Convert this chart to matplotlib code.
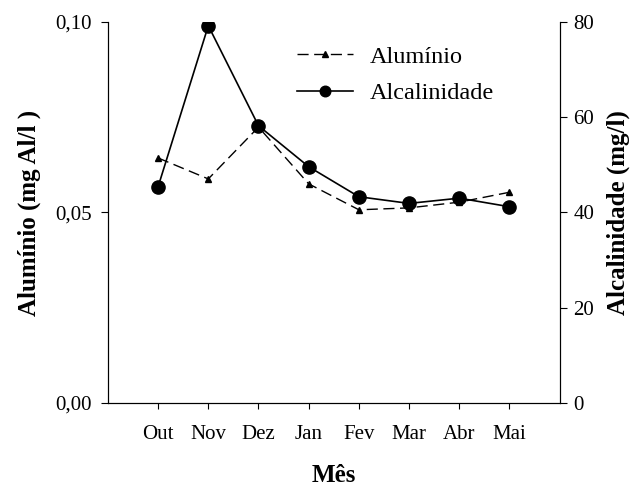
import numpy as np
import matplotlib.pyplot as plt

plt.rcParams['font.family'] = ['Liberation Serif', 'DejaVu Serif']

# data
meses = ['Out', 'Nov', 'Dez', 'Jan', 'Fev', 'Mar', 'Abr', 'Mai']
aluminio = [0.0643, 0.0588, 0.0724, 0.0575, 0.0507, 0.0512, 0.0527, 0.0553]
alcalinidade = [45.4, 79.2, 58.2, 49.6, 43.3, 41.9, 43.0, 41.2]

x = np.arange(1, len(meses) + 1)

fig = plt.figure(figsize=(6.31, 4.87), dpi=100)
ax = fig.add_axes([0.171, 0.1725, 0.716, 0.7825])
ax2 = ax.twinx()

l1, = ax.plot(x, aluminio, color='black', linestyle=(0, (8, 4)), linewidth=1,
              marker='^', markersize=5, label='Alumínio')
l2, = ax2.plot(x, alcalinidade, color='black', linestyle='-', linewidth=1.2,
               marker='o', markersize=9.5, label='Alcalinidade')

ax.set_xlim(0, 9)
ax.set_ylim(0, 0.10)
ax2.set_ylim(0, 80)
ax.set_xticks(x)
ax.set_xticklabels(meses, fontsize=15)
ax.set_yticks([0, 0.05, 0.10])
ax.set_yticklabels(['0,00', '0,05', '0,10'], fontsize=15)
ax2.set_yticks([0, 20, 40, 60, 80])
ax2.tick_params(labelsize=15)

ax.spines['top'].set_visible(False)
ax2.spines['top'].set_visible(False)
ax.tick_params(axis='x', length=4, pad=12)
ax.tick_params(axis='y', length=5, pad=6.5)
ax2.tick_params(axis='y', length=5, pad=5)

ax.set_xlabel('Mês', fontsize=18, fontweight='bold', labelpad=14)
ax.set_ylabel('Alumínio (mg Al/l )', fontsize=18, fontweight='bold', labelpad=10)
ax2.set_ylabel('Alcalinidade (mg/l)', fontsize=18, fontweight='bold', labelpad=9)

ax.legend([l1, l2], ['Alumínio', 'Alcalinidade'], loc='upper left',
          bbox_to_anchor=(0.37, 0.995), frameon=False, fontsize=17.5,
          handlelength=2.3, markerscale=0.8, labelspacing=0.6, handletextpad=0.7)

plt.savefig('out.png', dpi=100)
